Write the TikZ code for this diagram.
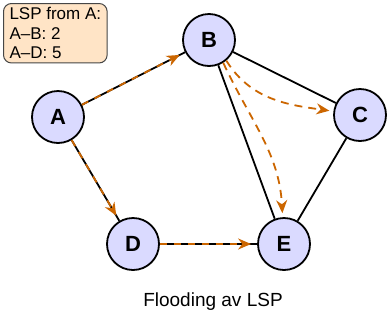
\documentclass[tikz,border=0pt]{standalone}
\usepackage{fontspec}
\setmainfont{Liberation Sans}
\usetikzlibrary{arrows.meta}
\definecolor{nodefill}{RGB}{218,218,255}
\definecolor{floodcol}{RGB}{204,102,0}
\definecolor{boxfill}{RGB}{255,228,198}
\definecolor{boxdraw}{RGB}{70,70,70}
\begin{document}
\begin{tikzpicture}[x=1pt,y=-1pt,
  router/.style={circle,draw,line width=1.8pt,fill=nodefill,minimum size=52pt,inner sep=0pt,font=\fontsize{22}{26}\selectfont\bfseries},
  link/.style={line width=1.8pt},
  floodline/.style={line width=1.8pt,floodcol,dash pattern=on 7pt off 7pt,-{Stealth[length=13pt,width=11pt]},shorten >=6pt},
  floodcurve/.style={line width=1.8pt,floodcol,dash pattern=on 8pt off 6pt,-{Stealth[length=13pt,width=11pt]},shorten >=4pt},
  infobox/.style={draw=boxdraw,fill=boxfill,rounded corners=8pt,line width=1pt,align=left,inner xsep=6pt,inner ysep=4pt,font=\fontsize{17}{19.5}\selectfont,anchor=north west},
  caption/.style={font=\fontsize{19}{22}\selectfont}
]
\useasboundingbox[fill=white] (0,0) rectangle (388,322);
\node[router] (A) at (58,117) {A};
\node[router] (B) at (209,40) {B};
\node[router] (C) at (360,115) {C};
\node[router] (D) at (133,244) {D};
\node[router] (E) at (284,244) {E};
% plain links
\draw[link] (B) -- (C);
\draw[link] (B) -- (E);
\draw[link] (C) -- (E);
% links used for flooding
\draw[link] (A) -- (B);
\draw[link] (A) -- (D);
\draw[link] (D) -- (E);
\draw[floodline] (A) -- (B);
\draw[floodline] (A) -- (D);
\draw[floodline] (D) -- (E);
% forwarded floods
\draw[floodcurve] (B.-50) to[out=-58,in=172] (C);
\draw[floodcurve] (B.-58) to[out=-65,in=93] (E);
\node[infobox] (info) at (3,3) {LSP from A:\\A--B: 2\\A--D: 5};
\node[caption] (cap) at (213,302) {Flooding av LSP};
\end{tikzpicture}
\end{document}
